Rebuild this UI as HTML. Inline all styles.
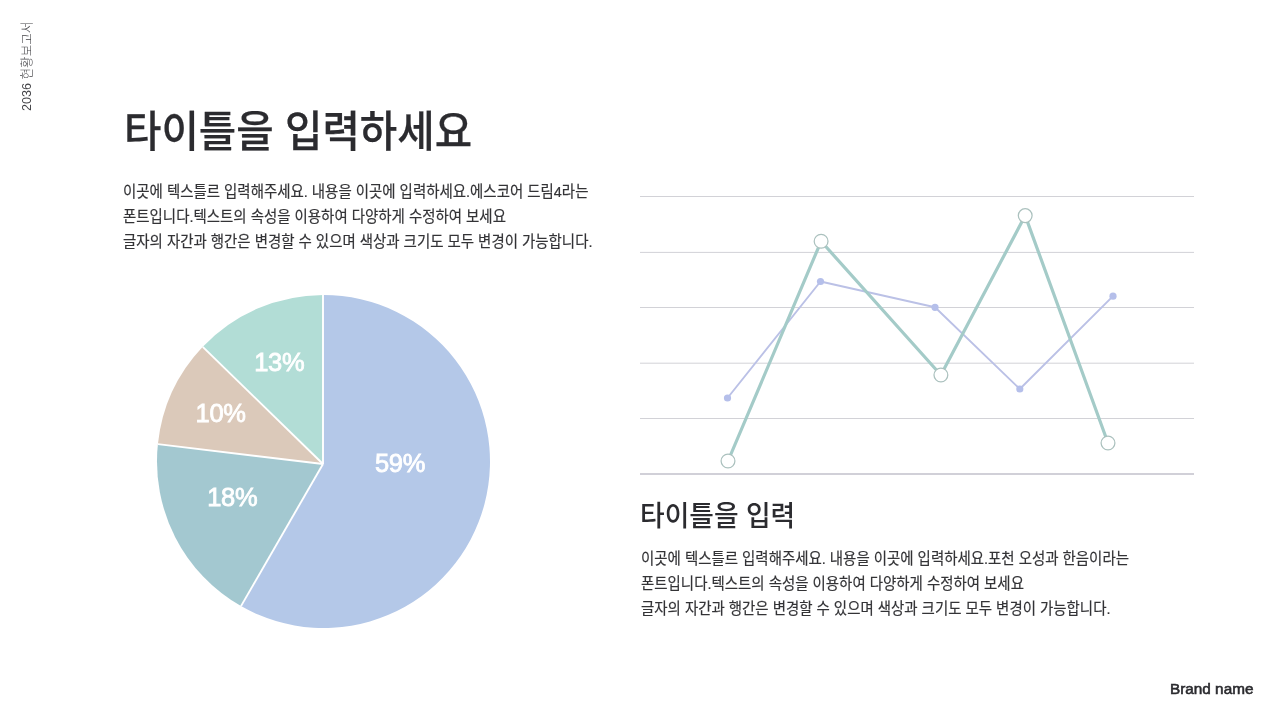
<!DOCTYPE html>
<html lang="ko">
<head>
<meta charset="utf-8">
<title>2036 현황보고서</title>
<style>
html,body{margin:0;padding:0;background:#fff;}
body{width:1280px;height:720px;position:relative;overflow:hidden;font-family:"Liberation Sans","Noto Sans CJK KR",sans-serif;color:#2b2b2f;}
.kr{font-family:"Liberation Sans","Noto Sans CJK KR",sans-serif;}
.abs{position:absolute;white-space:nowrap;transform-origin:0 0;}
#side{left:18.8px;top:110.5px;font-size:12.6px;font-weight:300;color:#444448;transform:rotate(-90deg);line-height:16px;}
#title{left:123.6px;top:100.5px;font-size:43px;font-weight:500;line-height:62px;transform:scaleX(0.946);color:#2b2b2f;-webkit-text-stroke:0.25px #2b2b2f;}
.body{font-size:15.5px;font-weight:400;line-height:25px;color:#333336;transform:scaleX(0.932);-webkit-text-stroke:0.2px #333336;}
#body1{left:123.0px;top:178.7px;}
#sub{left:640px;top:496px;font-size:28.3px;font-weight:500;line-height:40px;transform:scaleX(0.946);color:#2b2b2f;}
#body2{left:640.9px;top:545.8px;}
#brand{left:1170px;top:680px;font-size:15.5px;font-weight:400;line-height:18px;color:#2b2b2f;transform:scaleX(0.988);-webkit-text-stroke:0.6px #2b2b2f;}
svg{position:absolute;left:0;top:0;}
.pl{font-family:"Liberation Sans",sans-serif;font-size:25.5px;fill:#fff;stroke:#fff;stroke-width:0.8px;letter-spacing:-0.3px;}
</style>
</head>
<body>
<svg width="1280" height="720" viewBox="0 0 1280 720">
<path d="M323,464 L323.00,295.00 A166.5,166.5 0 1 1 240.98,606.11 Z" fill="#B4C8E8"/>
<path d="M323,464 L240.98,606.11 A166.5,166.5 0 0 1 157.91,444.10 Z" fill="#A3C8D0"/>
<path d="M323,464 L157.91,444.10 A166.5,166.5 0 0 1 202.76,346.86 Z" fill="#DBC9BA"/>
<path d="M323,464 L202.76,346.86 A166.5,166.5 0 0 1 323.00,295.00 Z" fill="#B2DDD6"/>
<g stroke="#fff" stroke-width="1.9" stroke-linecap="butt"><line x1="323" y1="464" x2="323.00" y2="295.00"/><line x1="323" y1="464" x2="240.98" y2="606.11"/><line x1="323" y1="464" x2="157.91" y2="444.10"/><line x1="323" y1="464" x2="202.76" y2="346.86"/></g>
<g class="pl">
<text x="254.2" y="371.4">13%</text>
<text x="195.5" y="422.4">10%</text>
<text x="374.9" y="471.9">59%</text>
<text x="207.2" y="506.4">18%</text>
</g>
<g stroke="#D2D2D7" stroke-width="1"><line x1="640" x2="1194" y1="196.5" y2="196.5"/><line x1="640" x2="1194" y1="252.4" y2="252.4"/><line x1="640" x2="1194" y1="307.5" y2="307.5"/><line x1="640" x2="1194" y1="363.2" y2="363.2"/><line x1="640" x2="1194" y1="418.5" y2="418.5"/></g>
<line x1="640" x2="1194" y1="474" y2="474" stroke="#C2C0CB" stroke-width="1.7"/>
<polyline points="727.5,398 820.5,281.5 935,307.3 1019.8,389 1113,296.2" fill="none" stroke="#BBC1E6" stroke-width="1.9" stroke-linejoin="round"/>
<g fill="#B5BFEA"><circle cx="727.5" cy="398" r="3.6"/><circle cx="820.5" cy="281.5" r="3.6"/><circle cx="935" cy="307.3" r="3.6"/><circle cx="1019.8" cy="389" r="3.6"/><circle cx="1113" cy="296.2" r="3.6"/></g>
<polyline points="728,461 821.1,241.3 940.9,375 1025.2,215.6 1108,443" fill="none" stroke="#A4CBC8" stroke-width="3.2" stroke-linejoin="round"/>
<g fill="#fff" stroke="#ABC1BE" stroke-width="1.25"><circle cx="728" cy="461" r="6.9"/><circle cx="821.1" cy="241.3" r="6.9"/><circle cx="940.9" cy="375" r="6.9"/><circle cx="1025.2" cy="215.6" r="6.9"/><circle cx="1108" cy="443" r="6.9"/></g>
</svg>
<div id="side" class="abs kr">2036 현황보고서</div>
<div id="title" class="abs kr">타이틀을 입력하세요</div>
<div id="body1" class="abs kr body">이곳에 텍스틀르 입력해주세요. 내용을 이곳에 입력하세요.에스코어 드림4라는<br>폰트입니다.텍스트의 속성을 이용하여 다양하게 수정하여 보세요<br>글자의 자간과 행간은 변경할 수 있으며 색상과 크기도 모두 변경이 가능합니다.</div>
<div id="sub" class="abs kr">타이틀을 입력</div>
<div id="body2" class="abs kr body">이곳에 텍스틀르 입력해주세요. 내용을 이곳에 입력하세요.포천 오성과 한음이라는<br>폰트입니다.텍스트의 속성을 이용하여 다양하게 수정하여 보세요<br>글자의 자간과 행간은 변경할 수 있으며 색상과 크기도 모두 변경이 가능합니다.</div>
<div id="brand" class="abs">Brand name</div>
</body>
</html>
